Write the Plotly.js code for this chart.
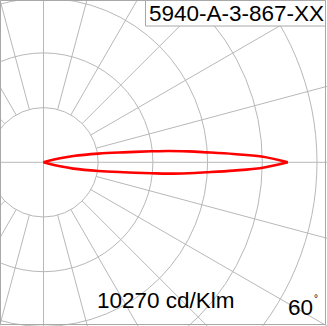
<!DOCTYPE html>
<html>
<head>
<meta charset="utf-8">
<script src="https://cdn.plot.ly/plotly-3.0.1.min.js"></script>
<style>
  html, body { margin: 0; padding: 0; background: #fff; }
  #chart { width: 327px; height: 326px; }
</style>
</head>
<body>
<div id="chart"></div>
<script>
// ---- data (cd/klm) ----
const ringValues = [2300, 4600, 6900, 9200, 11500];
const spokeAngles = [0, 15, 30, 45, 60, 75, 90, 105, 120, 135, 150, 165, 180,
                     195, 210, 225, 240, 255, 270, 285, 300, 315, 330, 345];
const curveAngles = [-16.5, -15, -13.6, -11.9, -9, -7.1, -5.8, -5.2, -4.3, -3.5, -2.5, -1.5, 0,
                     1.5, 2.5, 3.5, 4.3, 5.2, 5.8, 7.1, 9, 11.9, 13.6, 15, 16.5];
const curveIntensity = [0, 280, 715, 1283, 2334, 3381, 4567, 5277, 6114, 6867, 7998, 9171, 10270,
                        9171, 7998, 6867, 6114, 5277, 4567, 3381, 2334, 1283, 715, 280, 0];
const labelCode = "5940-A-3-867-XX";
const labelScale = "10270 cd/Klm";
const labelAngle = "60";

// ---- geometry of the view ----
const W = 327, H = 326;
const pxPerUnit = 54.7 / 2300;       // ring spacing in pixels per cd/klm
const cx = 43.5, cy = 162.3;          // pole position in pixels
const xRange = [-cx / pxPerUnit, (W - cx) / pxPerUnit];
const yRange = [-(H - cy) / pxPerUnit, cy / pxPerUnit];

const gridColor = '#b8b8b8';
const shapes = [];
ringValues.forEach(r => {
  shapes.push({type: 'circle', xref: 'x', yref: 'y', x0: -r, x1: r, y0: -r, y1: r,
               line: {color: gridColor, width: 1}, layer: 'below'});
});
const far = 20000;
spokeAngles.forEach(a => {
  const t = a * Math.PI / 180;
  const r0 = (a % 90 === 0) ? 0 : ringValues[0];
  shapes.push({type: 'line', xref: 'x', yref: 'y',
               x0: r0 * Math.cos(t), y0: r0 * Math.sin(t),
               x1: far * Math.cos(t), y1: far * Math.sin(t),
               line: {color: gridColor, width: 1}, layer: 'below'});
});
// frame
shapes.push({type: 'rect', xref: 'paper', yref: 'paper',
             x0: 0.5 / W, x1: 325.5 / W, y0: 1 - 324.5 / H, y1: 1 - 0.5 / H,
             line: {color: '#a8a8a8', width: 1}, fillcolor: 'rgba(0,0,0,0)'});
// code label box
shapes.push({type: 'rect', xref: 'paper', yref: 'paper',
             x0: 145.5 / W, x1: 325.5 / W, y0: 1 - 26 / H, y1: 1 - 0.5 / H,
             line: {color: '#a8a8a8', width: 1}, fillcolor: '#ffffff', layer: 'above'});

// split the curve into its two branches (each from the pole to the tip)
function branch(keep) {
  const xs = [], ys = [];
  curveAngles.forEach((a, i) => {
    if (!keep(a)) return;
    const t = a * Math.PI / 180;
    xs.push(curveIntensity[i] * Math.cos(t));
    ys.push(curveIntensity[i] * Math.sin(t));
  });
  return {type: 'scatter', mode: 'lines', x: xs, y: ys,
          line: {color: '#ff0000', width: 2.6, shape: 'spline', smoothing: 1},
          hoverinfo: 'skip'};
}
const traces = [branch(a => a <= 0), branch(a => a >= 0)];

const font = 'Liberation Sans, Arial, Helvetica, sans-serif';
const layout = {
  width: W, height: H,
  margin: {l: 0, r: 0, t: 0, b: 0, pad: 0},
  paper_bgcolor: '#ffffff', plot_bgcolor: '#ffffff',
  showlegend: false,
  xaxis: {range: xRange, visible: false, fixedrange: true},
  yaxis: {range: yRange, visible: false, fixedrange: true},
  shapes: shapes,
  annotations: [
    {xref: 'paper', yref: 'paper', x: 236 / W, y: 1 - 14 / H, xanchor: 'center', yanchor: 'middle',
     text: labelCode, showarrow: false, font: {family: font, size: 22.5, color: '#000'}},
    {xref: 'paper', yref: 'paper', x: 166.5 / W, y: 1 - 300 / H, xanchor: 'center', yanchor: 'middle',
     text: labelScale, showarrow: false, font: {family: font, size: 22.5, color: '#000'}},
    {xref: 'paper', yref: 'paper', x: 300.5 / W, y: 1 - 307 / H, xanchor: 'center', yanchor: 'middle',
     text: labelAngle, showarrow: false, font: {family: font, size: 22.5, color: '#000'}},
    {xref: 'paper', yref: 'paper', x: 316 / W, y: 1 - 298 / H, xanchor: 'center', yanchor: 'middle',
     text: '°', showarrow: false, font: {family: font, size: 10, color: '#000'}}
  ]
};

Plotly.newPlot('chart', traces, layout, {staticPlot: true, displayModeBar: false});
</script>
</body>
</html>
